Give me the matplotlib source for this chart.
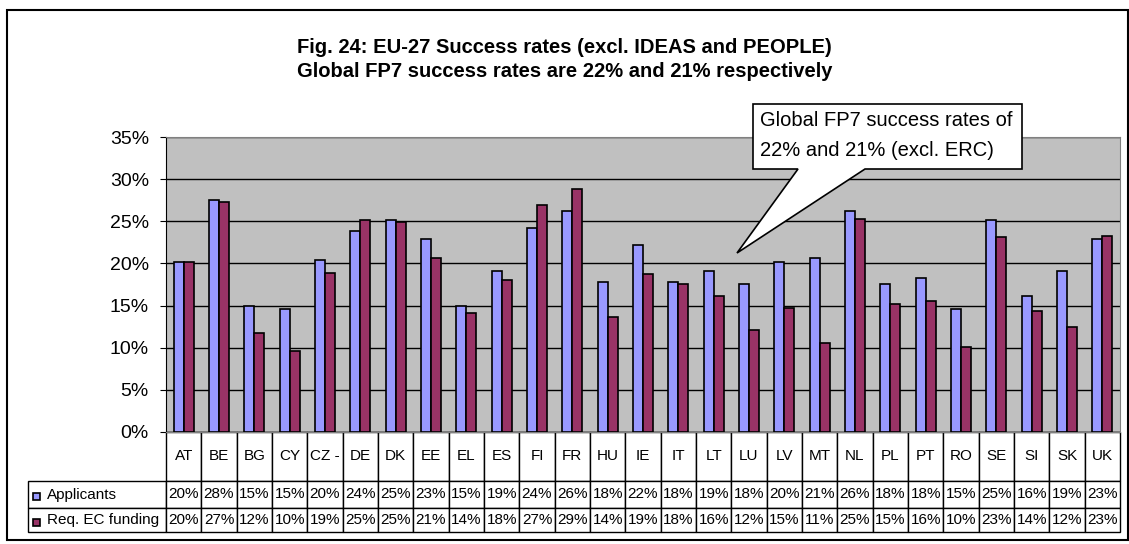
import matplotlib.pyplot as plt
import numpy as np
from matplotlib.patches import Polygon, Rectangle

plt.rcParams["font.family"] = ["Liberation Sans", "DejaVu Sans"]

countries = ["AT", "BE", "BG", "CY", "CZ -", "DE", "DK", "EE", "EL", "ES", "FI", "FR", "HU",
             "IE", "IT", "LT", "LU", "LV", "MT", "NL", "PL", "PT", "RO", "SE", "SI", "SK", "UK"]
applicants = [20.2, 27.5, 14.9, 14.6, 20.4, 23.8, 25.1, 22.9, 14.9, 19.1, 24.2, 26.2, 17.8,
              22.2, 17.8, 19.1, 17.6, 20.2, 20.7, 26.2, 17.6, 18.3, 14.6, 25.1, 16.1, 19.1, 22.9]
req_funding = [20.2, 27.3, 11.7, 9.6, 18.9, 25.1, 24.9, 20.7, 14.1, 18.0, 26.9, 28.8, 13.6,
               18.7, 17.6, 16.1, 12.1, 14.7, 10.6, 25.3, 15.2, 15.6, 10.1, 23.1, 14.3, 12.4, 23.3]
series_names = ["Applicants", "Req. EC funding"]
yticks = [0, 5, 10, 15, 20, 25, 30, 35]

W, H = 1129, 544
c_app = "#9999FF"
c_req = "#993366"


def fx(px):
    return px / W


def fy(py):
    return 1 - py / H


fig = plt.figure(figsize=(W / 100, H / 100), dpi=100)

# outer frame
fig.patches.append(Rectangle((fx(7), fy(540)), fx(1128) - fx(7), fy(10) - fy(540),
                             transform=fig.transFigure, fill=False, ec="black", lw=1.5))

L, R, T, B = 166, 1120, 137, 432
ax = fig.add_axes([fx(L), fy(B), fx(R) - fx(L), fy(T) - fy(B)])
x = np.arange(len(countries))
ax.bar(x - 0.14, applicants, 0.28, color=c_app, edgecolor="black", lw=1.2, zorder=3)
ax.bar(x + 0.14, req_funding, 0.28, color=c_req, edgecolor="black", lw=1.2, zorder=3)

ax.set_xlim(-0.5, len(countries) - 0.5)
ax.set_ylim(0, 35)
ax.set_facecolor("#C0C0C0")
ax.set_yticks(yticks)
ax.set_yticklabels([f"{v}%" for v in yticks], fontsize=14)
ax.set_xticks([])
ax.yaxis.grid(True, color="black", lw=1, zorder=1)
ax.set_axisbelow(True)
ax.tick_params(axis="y", length=4.3, pad=8)
for side in ["top", "right", "bottom"]:
    ax.spines[side].set_color("#808080")
ax.spines["left"].set_color("black")

# data table below the plot (first column holds the series names)
rows = [[series_names[0]] + [f"{v:.0f}%" for v in applicants],
        [series_names[1]] + [f"{v:.0f}%" for v in req_funding]]
pw, ph = R - L, B - T
tbl = ax.table(
    cellText=rows,
    colLabels=[""] + countries,
    cellLoc="center",
    bbox=[(28 - L) / pw, -(532 - B) / ph, (R - 28) / pw, (532 - B) / ph],
)
tbl.auto_set_font_size(False)
tbl.set_fontsize(11)
heights = {0: 49, 1: 27, 2: 24}
for (r, c), cell in tbl.get_celld().items():
    cell.set_height(heights[r])
    cell.set_width(138 if c == 0 else pw / len(countries))
    cell.set_edgecolor("black")
    cell.set_linewidth(1)
    if c == 0:
        cell.PAD = 0.14
        cell.set_text_props(ha="left")
        if r == 0:
            cell.visible_edges = ""

# legend keys in the row labels
for py, col in [(496, c_app), (522, c_req)]:
    fig.patches.append(Rectangle((fx(33), fy(py + 3.5)), fx(7), 7 / H, transform=fig.transFigure,
                                 fc=col, ec="black", lw=1.2))

fig.text(0.5, fy(53), "Fig. 24: EU-27 Success rates (excl. IDEAS and PEOPLE)",
         ha="center", va="baseline", fontsize=14.5, fontweight="bold")
fig.text(0.5, fy(77), "Global FP7 success rates are 22% and 21% respectively",
         ha="center", va="baseline", fontsize=14.5, fontweight="bold")

# callout
shape = [(753, 104), (1022, 104), (1022, 169), (865, 169), (737, 253), (798, 169), (753, 169)]
fig.patches.append(Polygon([(fx(a), fy(b)) for a, b in shape], closed=True,
                           transform=fig.transFigure, fc="white", ec="black", lw=1.2, zorder=5))
fig.text(fx(760), fy(120), "Global FP7 success rates of", fontsize=14.5, va="center", zorder=6)
fig.text(fx(760), fy(150), "22% and 21% (excl. ERC)", fontsize=14.5, va="center", zorder=6)

fig.savefig("out.png", dpi=100)
